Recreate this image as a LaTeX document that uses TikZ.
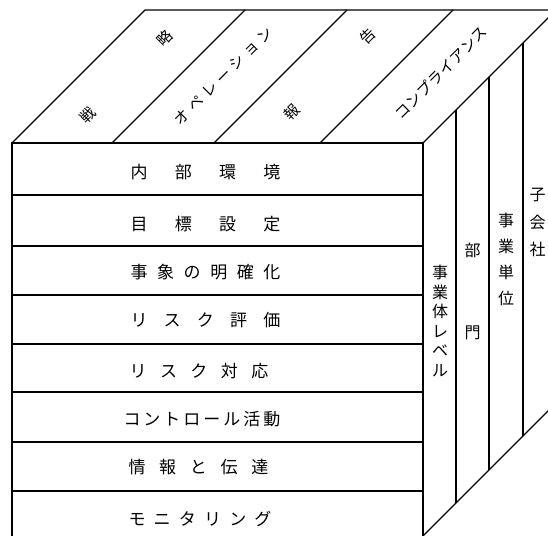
\documentclass[tikz,border=0pt]{standalone}
\usepackage{fontspec}
\newfontfamily\cjk{Noto Sans CJK JP}
\begin{document}
\begin{tikzpicture}[x=1pt,y=-1pt,line width=1.3pt,line join=miter,
  frontlbl/.style={font=\cjk\fontsize{17}{17}\selectfont,inner sep=0pt,anchor=center},
  toplbl/.style={font=\cjk\fontsize{15}{15}\selectfont,inner sep=0pt,rotate=45},
  sidelbl/.style={font=\cjk\fontsize{16}{#1}\selectfont,inner sep=0pt,align=center}]
\useasboundingbox (0,0) rectangle (548,535);
\clip (0,0) rectangle (548,535);
% corners
\coordinate (F1) at (12,143);
\coordinate (F2) at (423,143);
\coordinate (F3) at (423,536);
\coordinate (F4) at (12,536);
\coordinate (B1) at (145,10);
\coordinate (B2) at (556,10);
\coordinate (B3) at (556,403);
% outline
\draw (F4) -- (F1) -- (F2) -- (F3);
\draw (F1) -- (B1) -- (B2) -- (F2);
\draw (F3) -- (B3) -- (B2);
% top dividers
\draw (112,143) -- (245,10);
\draw (214,143) -- (347,10);
\draw (320,143) -- (453,10);
% right dividers
\draw (456,110) -- (456,503);
\draw (489,77) -- (489,470);
\draw (523,43) -- (523,436);
% rows
\foreach \yy in {195,246,295,344,392,442,491} \draw (12,\yy) -- (423,\yy);
% top labels
\node[toplbl] (t1) at (126,77) {戦\kern94pt略};
\node[toplbl] (t2) at (223.5,76) {オ\kern4.4ptペ\kern4.4ptレ\kern4.4ptー\kern4.4ptシ\kern4.4ptョ\kern4.4ptン};
\node[toplbl] (t3) at (330,74) {報\kern93pt告};
\node[toplbl] (t4) at (441,72.5) {コ\kern0.4ptン\kern0.4ptプ\kern0.4ptラ\kern0.4ptイ\kern0.4ptア\kern0.4ptン\kern0.4ptス};
% front labels
\node[frontlbl] (r1) at (205.5,172) {内\kern27.3pt部\kern27.3pt環\kern27.3pt境};
\node[frontlbl] (r2) at (205.5,224) {目\kern27.3pt標\kern27.3pt設\kern27.3pt定};
\node[frontlbl] (r3) at (205.5,272) {事\kern9.6pt象\kern9.6ptの\kern9.6pt明\kern9.6pt確\kern9.6pt化};
\node[frontlbl] (r4) at (205.5,320) {リ\kern16.25ptス\kern16.25ptク\kern16.25pt評\kern16.25pt価};
\node[frontlbl] (r5) at (199,371) {リ\kern13.5ptス\kern13.5ptク\kern13.5pt対\kern13.5pt応};
\node[frontlbl] (r6) at (202,419) {コ\kern3ptン\kern3ptト\kern3ptロ\kern3ptー\kern3ptル\kern3pt活\kern3pt動};
\node[frontlbl] (r7) at (198.5,467) {情\kern13.75pt報\kern13.75ptと\kern13.75pt伝\kern13.75pt達};
\node[frontlbl] (r8) at (200,519) {モ\kern8.2ptニ\kern8.2ptタ\kern8.2ptリ\kern8.2ptン\kern8.2ptグ};
% side labels
\node[sidelbl=19.6] (s1) at (440,321) {事\\業\\体\\レ\\ベ\\ル};
\node[sidelbl=82] (s2) at (472.5,291) {部\\門};
\node[sidelbl=26] (s3) at (506,259.5) {事\\業\\単\\位};
\node[sidelbl=27.5] (s4) at (537.5,222.5) {子\\会\\社};
\end{tikzpicture}
\end{document}
